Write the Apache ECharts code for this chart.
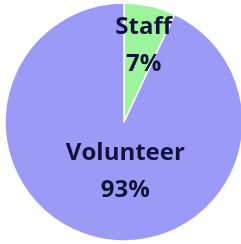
<!DOCTYPE html>
<html lang="en">
<head>
    <meta charset="UTF-8">
    <title>Staff vs Volunteer</title>
    <script type="text/javascript" src="https://cdn.jsdelivr.net/npm/echarts@6/dist/echarts.min.js"></script>
    <style>
        html, body { margin: 0; padding: 0; background: #fff; }
    </style>
</head>
<body>
<div id="chart" style="width:241px;height:244px;"></div>
<script type="text/javascript">
    var categories = ['Staff', 'Volunteer'];
    var shares = [7, 93];
    var colors = ['#9cf59c', '#9b9bf7'];

    var myChart = echarts.init(document.getElementById('chart'));

    // label offsets nudge the inside labels to where the original sits
    var offsets = [[6, -15], [15, -11]];

    var option = {
        animation: false,
        series: [{
            type: 'pie',
            center: [124, 122],
            radius: [0, 119],
            startAngle: 90,
            clockwise: true,
            itemStyle: {
                borderColor: '#fff',
                borderWidth: 1.5
            },
            label: {
                show: true,
                position: 'inside',
                color: '#12123a',
                fontFamily: 'Open Sans',
                fontWeight: 'bold',
                fontSize: 24,
                lineHeight: 37,
                formatter: function (p) {
                    return p.name + '\n' + p.value + '%';
                }
            },
            labelLine: { show: false },
            emphasis: { disabled: true },
            data: categories.map(function (c, i) {
                return {
                    name: c,
                    value: shares[i],
                    itemStyle: { color: colors[i] },
                    label: { offset: offsets[i] }
                };
            })
        }]
    };
    myChart.setOption(option);
</script>
</body>
</html>
